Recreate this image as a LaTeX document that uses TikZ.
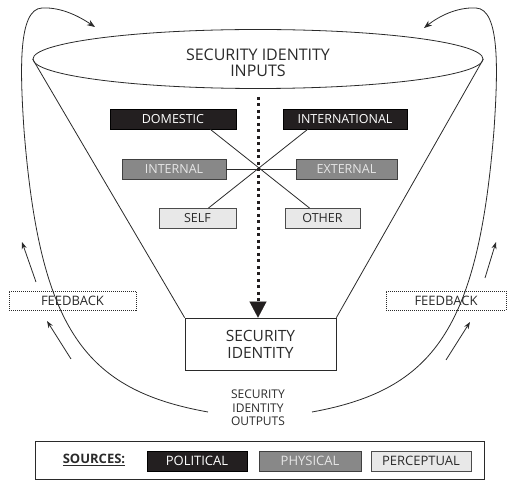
\documentclass[tikz,border=0pt]{standalone}
\usepackage{fontspec}
\setmainfont{Open Sans}
\usetikzlibrary{shapes.geometric,arrows.meta,calc}
\definecolor{ink}{HTML}{2A2A2A}
\definecolor{dk}{HTML}{231F20}
\definecolor{md}{HTML}{888888}
\definecolor{lt}{HTML}{E8E8E8}
\definecolor{mdtext}{HTML}{E6E6E6}
\begin{document}
\begin{tikzpicture}[x=1pt,y=-1pt,
  thin line/.style={line width=0.8pt, draw=ink},
  cat/.style={draw, line width=0.8pt, minimum height=20pt, inner sep=0pt, font=\fontsize{12.5}{14}\selectfont},
  darkbox/.style={cat, fill=dk, draw=black, text=white},
  graybox/.style={cat, fill=md, draw=black!75, text=mdtext},
  lightbox/.style={cat, fill=lt, draw=black!70, text=ink},
  fbbox/.style={draw=ink, line width=0.6pt, dash pattern=on 1pt off 1pt, minimum height=19pt, inner sep=0pt, text=ink, font=\fontsize{13}{15}\selectfont},
  loop/.style={thin line, -{Stealth[length=8pt,width=6pt]}},
  fbarrow/.style={thin line, -{Stealth[length=7pt,width=5pt]}},
  label/.style={text=ink, align=center}
]
\useasboundingbox (0,0) rectangle (507,481);

% inputs ellipse
\node[ellipse, draw=ink, line width=0.8pt, minimum width=450pt, minimum height=59pt, inner sep=0pt] (inp) at (258,59) {};
\node[label, font=\fontsize{16}{16}\selectfont] (inptxt) at (258,63) {SECURITY IDENTITY\\INPUTS};

% security identity box
\node[draw=ink, line width=0.8pt, minimum width=151pt, minimum height=52pt, inner sep=0pt, label, font=\fontsize{15.5}{17}\selectfont] (sid) at (260.5,344) {SECURITY\\IDENTITY};

% funnel sides
\draw[thin line] (inp.west) -- (sid.north west);
\draw[thin line] (inp.east) -- (sid.north east);

% category boxes
\node[darkbox, minimum width=126pt] (dom) at (173,119) {DOMESTIC};
\node[darkbox, minimum width=124pt] (intl) at (345,119) {INTERNATIONAL};
\node[graybox, minimum width=104pt] (int) at (174,169) {INTERNAL};
\node[graybox, minimum width=101pt] (ext) at (346.5,169) {EXTERNAL};
\node[lightbox, minimum width=77pt] (self) at (197.5,218.5) {SELF};
\node[lightbox, minimum width=75pt] (oth) at (322.5,218.5) {OTHER};

% crossing lines
\draw[thin line] ($(dom.south east)+(-26,0)$) -- ($(oth.north west)+(25,0)$);
\draw[thin line] ($(intl.south west)+(25,0)$) -- ($(self.north east)+(-28,0)$);
\draw[thin line] (int.east) -- (ext.west);

% dotted main arrow
\draw[draw=dk, line width=3pt, dash pattern=on 3pt off 3.5pt,
  -{Triangle[length=16pt,width=17pt,line width=0.1pt]}]
  ($(inp.south)+(0,8)$) -- (inp.south |- sid.north);

% outputs text
\node[label, font=\fontsize{12}{13.5}\selectfont] (out) at (258,408) {SECURITY\\IDENTITY\\OUTPUTS};

% feedback loops
\coordinate (Lend) at (208,412);
\coordinate (Ltip) at (95,27);
\coordinate (Rend) at (312,412);
\coordinate (Rtip) at (424,28);
\draw[loop] (Lend) .. controls (85,390) and (40,330) .. (24,130)
  .. controls (20,70) and (18,9) .. (42,8)
  .. controls (62,7) and (80,17) .. (Ltip);
\draw[loop] (Rend) .. controls (433,390) and (478,330) .. (494,130)
  .. controls (498,70) and (500,9) .. (476,8)
  .. controls (456,7) and (438,17) .. (Rtip);

% feedback boxes
\node[fbbox, minimum width=127pt] (fbl) at (72.5,300.5) {FEEDBACK};
\node[fbbox, minimum width=120pt] (fbr) at (446,300.5) {FEEDBACK};

\coordinate (la1) at (36,282);  \coordinate (la1t) at (22,242);
\coordinate (la2) at (71,359);  \coordinate (la2t) at (47,321);
\coordinate (ra1) at (485,278); \coordinate (ra1t) at (496,242);
\coordinate (ra2) at (446,360); \coordinate (ra2t) at (470,322);
\draw[fbarrow] (la1) -- (la1t);
\draw[fbarrow] (la2) -- (la2t);
\draw[fbarrow] (ra1) -- (ra1t);
\draw[fbarrow] (ra2) -- (ra2t);

% legend
\node[draw=ink, line width=0.8pt, minimum width=449pt, minimum height=38pt, inner sep=0pt] (leg) at (259.5,460) {};
\node[label, font=\bfseries\fontsize{13}{15}\selectfont] (src) at (94,460) {\underline{SOURCES:}};
\node[darkbox, minimum width=100pt, font=\fontsize{13}{15}\selectfont] (pol) at (197,461) {POLITICAL};
\node[graybox, minimum width=102pt, font=\fontsize{13}{15}\selectfont] (phy) at (310,461) {PHYSICAL};
\node[lightbox, minimum width=100pt, font=\fontsize{13}{15}\selectfont] (per) at (421,461) {PERCEPTUAL};
\end{tikzpicture}
\end{document}
